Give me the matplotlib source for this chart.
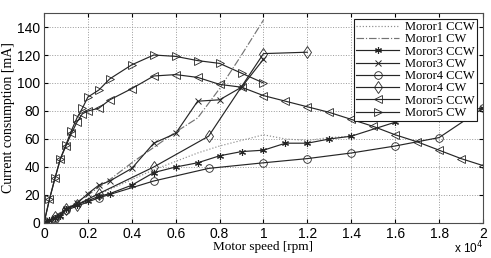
import numpy as np
import matplotlib
matplotlib.use("Agg")
import matplotlib.pyplot as plt
from matplotlib.ticker import FixedLocator, FuncFormatter

# motor speed [rpm] / current consumption [mA]
m1_ccw_x = [0, 1000, 2000, 3000, 4000, 5000, 6000, 7000, 8000, 9000, 10000, 11000, 12000, 13000, 14000]
m1_ccw_y = [0, 10, 17, 24, 31, 38, 44, 50, 55, 59, 63, 60, 59, 61, 62]

m1_cw_x = [0, 1000, 2000, 3000, 4000, 5000, 6000, 7000, 8000, 9000, 10000]
m1_cw_y = [0, 10, 20, 31, 43, 54, 65, 75, 96, 120, 145]

m3_ccw_x = [0, 250, 500, 750, 1000, 1500, 2000, 2500, 3000, 4000, 5000, 6000, 7000, 8000, 9000,
            10000, 11000, 12000, 13000, 14000, 16000, 18000, 20000]
m3_ccw_y = [0, 2, 3.5, 5, 10, 13, 16, 19, 21, 27, 36, 40, 43, 48, 51,
            52, 57, 57, 60, 62, 72, 78, 82]

m3_cw_x = [0, 250, 500, 750, 1000, 1500, 2000, 2500, 3000, 4000, 5000, 6000, 7000, 8000, 9000, 10000]
m3_cw_y = [0, 2, 3.5, 5, 10, 14, 21, 27, 30, 39, 57, 64, 87, 88, 97, 117]

m4_ccw_x = [0, 500, 1000, 2500, 5000, 7500, 10000, 12000, 14000, 16000, 18000, 20000]
m4_ccw_y = [0, 3, 9, 18, 30, 39, 43, 46, 50, 55, 61, 82]

m4_cw_x = [0, 500, 1000, 1500, 2500, 5000, 7500, 10000, 12000]
m4_cw_y = [0, 4, 10, 13, 21, 40, 62, 121, 122]

m5_ccw_x = [0, 250, 500, 750, 1000, 1250, 1500, 1750, 2000, 2500, 3000, 4000, 5000, 6000, 7000, 8000, 9000,
            10000, 11000, 12000, 13000, 14000, 15000, 16000, 17000, 18000, 19000, 20000]
m5_ccw_y = [0, 17, 32, 46, 55, 64, 72, 78, 80, 82, 88, 96, 105, 106, 104, 99, 97,
            91, 87, 83, 79, 74, 69, 63, 58, 52, 46, 41]

m5_cw_x = [0, 250, 500, 750, 1000, 1250, 1500, 1750, 2000, 2500, 3000, 4000, 5000, 6000, 7000, 8000, 9000, 10000]
m5_cw_y = [0, 17, 32, 46, 56, 66, 75, 82, 90, 95, 103, 113, 120, 119, 116, 114, 107, 100]

plt.rcParams["font.family"] = ["Liberation Serif", "DejaVu Serif"]

fig = plt.figure(figsize=(4.91, 2.58), dpi=100)
ax = fig.add_axes([0.0896, 0.1357, 0.8941, 0.8139])

lw = 0.85
k = "0.15"
ax.plot(m1_ccw_x, m1_ccw_y, ls=":", color="0.55", lw=lw, label="Moror1 CCW")
ax.plot(m1_cw_x, m1_cw_y, ls="-.", color="0.45", lw=lw, label="Moror1 CW")
ax.plot(m3_ccw_x, m3_ccw_y, "-", marker=(6, 2, 0), color=k, lw=lw, ms=5, mew=0.8, label="Moror3 CCW")
ax.plot(m3_cw_x, m3_cw_y, "-", marker="x", color=k, lw=lw, ms=4, mew=0.7, label="Moror3 CW")
ax.plot(m4_ccw_x, m4_ccw_y, "-", marker="o", color=k, mfc="none", lw=lw, ms=5.5, mew=0.6, label="Moror4 CCW")
ax.plot(m4_cw_x, m4_cw_y, "-", marker="d", color=k, mfc="none", lw=lw, ms=6, mew=0.6, label="Moror4 CW")
ax.plot(m5_ccw_x, m5_ccw_y, "-", marker="<", color=k, mfc="none", lw=lw, ms=6, mew=0.6, label="Moror5 CCW")
ax.plot(m5_cw_x, m5_cw_y, "-", marker=">", color=k, mfc="none", lw=lw, ms=6, mew=0.6, label="Moror5 CW")

ax.set_xlim(0, 20000)
ax.set_ylim(0, 150)
ax.xaxis.set_major_locator(FixedLocator(np.arange(0, 20001, 2000)))
ax.yaxis.set_major_locator(FixedLocator(np.arange(0, 141, 20)))
ax.xaxis.set_major_formatter(FuncFormatter(lambda v, p: f"{v / 1e4:g}"))
ax.tick_params(direction="in", top=True, right=True, length=3, labelsize=10, pad=3)
for lab in ax.get_xticklabels() + ax.get_yticklabels():
    lab.set_family(["Liberation Sans", "DejaVu Sans"])
ax.grid(True, ls=":", color="0.6", lw=0.7)
for s in ax.spines.values():
    s.set_color("0.3")

ax.set_xlabel("Motor speed [rpm]", fontsize=9.5, labelpad=0)
ax.set_ylabel("Current consumption [mA]", fontsize=10, labelpad=1)
fig.text(0.955, 0.02, r"x 10$^4$", fontsize=8.5, ha="center", family=["Liberation Sans", "DejaVu Sans"])

leg = ax.legend(loc="upper right", fontsize=9, fancybox=False, edgecolor="0.1",
                framealpha=1, handlelength=3.4, handletextpad=0.5, borderpad=0.2,
                labelspacing=0.02, borderaxespad=0.45)
leg.get_frame().set_linewidth(0.8)

fig.savefig("out.png", dpi=100)
